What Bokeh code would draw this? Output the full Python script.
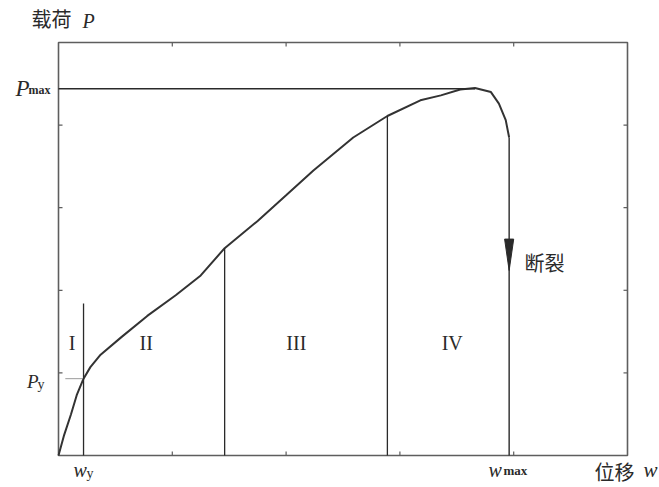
import math
from bokeh.plotting import figure
from bokeh.models import Range1d, Label
from bokeh.core.properties import value
from bokeh.embed import file_html
from bokeh.resources import INLINE

# ---- data (load P vs displacement w, arbitrary units 0..5) ----
curve_w = [0.00, 0.05, 0.11, 0.16, 0.22, 0.28, 0.37, 0.55, 0.78, 1.03, 1.25, 1.46,
           1.75, 2.00, 2.24, 2.59, 2.89, 3.18, 3.36, 3.53, 3.66, 3.80, 3.87, 3.93, 3.96]
curve_p = [0.00, 0.25, 0.50, 0.73, 0.93, 1.07, 1.22, 1.43, 1.69, 1.94, 2.18, 2.51,
           2.84, 3.15, 3.45, 3.85, 4.11, 4.30, 4.36, 4.43, 4.45, 4.40, 4.26, 4.06, 3.85]

w_y, p_y = 0.22, 0.93          # yield point
w_max, p_max = 3.96, 4.44      # max displacement / max load
stage_bounds_w = [1.46, 2.89]  # boundaries between stages II/III and III/IV
stage_bounds_p = [2.51, 4.11]
stage_names = ["I", "II", "III", "IV"]
stage_label_w = [0.12, 0.77, 2.09, 3.46]
stage_label_p = 1.36
wy_line_top = 1.84
arrow_base, arrow_tip = 2.62, 2.24
ticks = [0, 1, 2, 3, 4, 5]
box = (0, 5)

INK = "#2a2a2a"
FRAME = "#5e5e5e"

# frame box (0..5) sits at page pixels x 58..627, y 42..455
PXX, PXY = 113.8, 82.6
W, H = 659, 487
p = figure(width=W, height=H, output_backend="svg", toolbar_location=None,
           x_axis_type=None, y_axis_type=None,
           x_range=Range1d(-58 / PXX, (W - 58) / PXX),
           y_range=Range1d((455 - H) / PXY, 455 / PXY),
           min_border=0, min_border_left=0, min_border_right=0,
           min_border_top=0, min_border_bottom=0,
           background_fill_color="white", border_fill_color="white")
p.outline_line_color = None
p.grid.visible = False

# frame box
p.quad(left=[box[0]], right=[box[1]], bottom=[box[0]], top=[box[1]],
       fill_color=None, line_color=FRAME, line_width=1.6)
# inward ticks on four sides
inner = ticks[1:-1]
p.ray(x=inner, y=[box[0]] * len(inner), length=4, angle=math.pi / 2, length_units="screen",
      line_color=FRAME, line_width=1.2)
p.ray(x=inner, y=[box[1]] * len(inner), length=4, angle=-math.pi / 2, length_units="screen",
      line_color=FRAME, line_width=1.2)
p.ray(x=[box[0]] * len(inner), y=inner, length=4, angle=0, length_units="screen",
      line_color=FRAME, line_width=1.2)
p.ray(x=[box[1]] * len(inner), y=inner, length=4, angle=math.pi, length_units="screen",
      line_color=FRAME, line_width=1.2)

# curve
p.line(curve_w, curve_p, line_color="#333333", line_width=2.0)

# P_max horizontal line
peak_w = curve_w[curve_p.index(max(curve_p))]
p.line([0, peak_w], [p_max, p_max], line_color=INK, line_width=1.4)

# P_y short marker
p.line([0.06, w_y], [p_y, p_y], line_color="#9a9a9a", line_width=1.0)

# vertical boundaries
p.segment(x0=[w_y] + stage_bounds_w, y0=[0, 0, 0],
          x1=[w_y] + stage_bounds_w, y1=[wy_line_top] + stage_bounds_p,
          line_color=INK, line_width=1.3)

# fracture line with arrow
p.segment(x0=[w_max], y0=[curve_p[-1]], x1=[w_max], y1=[0], line_color=INK, line_width=1.4)
hw = 0.04
p.patch([w_max - hw, w_max + hw, w_max], [arrow_base, arrow_base, arrow_tip],
        fill_color=INK, line_color=INK, line_width=1)

# stage labels
p.text(x=stage_label_w, y=[stage_label_p] * 4, text=stage_names,
       text_font=value("Liberation Serif"), text_font_size="20px",
       text_align="center", text_baseline="middle", text_color=INK)


def X(px):
    return (px - 58) / PXX


def Y(py):
    return (455 - py) / PXY


def lab(x, y, text, font="Liberation Serif", size="20px", style="normal", align="left",
        baseline="alphabetic"):
    p.add_layout(Label(x=x, y=y, text=text, text_font=font, text_font_size=size,
                       text_font_style=style, text_align=align, text_baseline=baseline,
                       text_color=INK))


# 断裂
lab(X(524), Y(262), "断裂", font="Noto Sans CJK SC", size="20px", baseline="middle")
# axis titles
lab(X(31), Y(18), "载荷", font="Noto Sans CJK SC", size="20px", baseline="middle")
lab(X(82), Y(20), "P", size="20px", style="italic")
lab(X(594), Y(471), "位移", font="Noto Sans CJK SC", size="20px", baseline="middle")
lab(X(643), Y(469), "w", size="21px", style="italic")
# P_max
lab(X(29), Y(88), "P", size="23px", style="italic", align="right")
lab(X(28), Y(89), "max", size="12px", style="bold")
# P_y
lab(X(38), Y(381), "P", size="19px", style="italic", align="right")
lab(X(37), Y(384), "y", size="14px")
# w_y
lab(X(73), Y(469), "w", size="20px", style="italic")
lab(X(86), Y(473), "y", size="14px")
# w_max
lab(X(488), Y(469), "w", size="20px", style="italic")
lab(X(503), Y(470), "max", size="13px", style="bold")

open("out.html", "w").write(file_html(p, INLINE))
